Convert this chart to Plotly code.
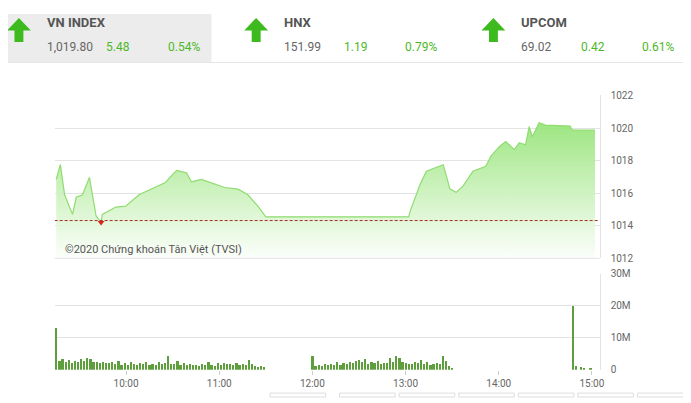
import plotly.graph_objects as go

OFF = 8  # page body margin
W, H = 691 - OFF, 403 - OFF

# intraday price (minutes after 9:00, index value)
price_min = [15, 17.7, 20.4, 25.5, 27.9, 31.9, 36.4, 40.7, 43.9, 44.7, 53.4, 59.8, 68.3, 79.0,
             85.3, 88.5, 92.6, 98.9, 102.1, 108.5, 117.3, 123.6, 132.1, 138.5, 144.9, 150.0,
             242.0, 243.0, 249.4, 253.4, 264.3, 268.6, 272.6, 277.1, 283.4, 291.7, 294.9,
             300.5, 304.5, 310.1, 313.2, 317.3, 319.6, 321.7, 326.0, 330.0, 346.0, 347.3, 362.0]
price_val = [1016.85, 1017.76, 1015.9, 1014.7, 1015.75, 1015.9, 1016.97, 1014.6, 1014.2, 1014.7,
             1015.15, 1015.2, 1015.9, 1016.35, 1016.65, 1017.0, 1017.4, 1017.25, 1016.7, 1016.85,
             1016.55, 1016.35, 1016.25, 1015.9, 1015.2, 1014.55,
             1014.55, 1014.9, 1016.55, 1017.35, 1017.75, 1016.25, 1016.05, 1016.45, 1017.35,
             1017.65, 1018.26, 1018.87, 1019.17, 1018.67, 1019.1, 1018.97, 1020.08, 1019.47,
             1020.33, 1020.18, 1020.12, 1019.88, 1019.88]
ref_price = 1014.32
low_point = (43.9, 1014.2)

# volume (millions), 2-minute bars
vol_am_start = 15
vol_am = [13.0, 2.8, 3.4, 2.6, 3.1, 2.2, 2.9, 2.5, 3.3, 2.8, 3.6, 3.4, 2.4, 2.6, 2.2, 2.5, 2.3, 2.1,
          2.6, 2.0, 2.8, 1.7, 2.2, 1.6, 2.6, 1.9, 1.5, 2.3, 1.8, 2.4, 1.6, 2.0, 1.7, 2.6, 1.8, 2.3,
          4.5, 2.0, 1.8, 2.9, 1.7, 2.2, 1.6, 1.9, 1.5, 1.6, 1.4, 1.8, 1.5, 2.4, 1.6, 1.2, 2.1, 1.5,
          2.3, 1.8, 2.0, 1.6, 2.2, 1.5, 2.0, 1.7, 3.0, 1.8, 1.2, 0.9, 1.1, 0.8]
vol_pm_start = 180
vol_pm = [4.4, 1.2, 1.6, 1.4, 1.8, 1.5, 2.0, 1.6, 2.6, 1.7, 2.2, 1.8, 2.5, 2.1, 2.7, 3.1, 2.4,
          3.4, 2.0, 2.6, 2.2, 2.8, 1.8, 2.3, 2.1, 3.8, 2.6, 4.5, 3.9, 2.4, 2.2, 2.0, 1.8, 2.6,
          2.2, 3.1, 1.9, 2.4, 1.7, 2.0, 2.3, 1.8, 4.4, 2.7, 1.2, 0.5]
vol_atc_min = [348.0, 349.5, 353.0, 355.0, 359.0]
vol_atc = [20.0, 1.2, 0.9, 0.6, 0.5]

tick_min = [60, 120, 180, 240, 300, 360]
tick_text = ["10:00", "11:00", "12:00", "13:00", "14:00", "15:00"]

indices = [
    ("VN INDEX", "1,019.80", "5.48", "0.54%"),
    ("HNX", "151.99", "1.19", "0.79%"),
    ("UPCOM", "69.02", "0.42", "0.61%"),
]


def px(x):
    return (x - OFF) / W


def py(y):
    return 1 - (y - OFF) / H


vol_x = [vol_am_start + 2 * i for i in range(len(vol_am))] + \
        [vol_pm_start + 2 * i for i in range(len(vol_pm))] + vol_atc_min
vol_y = vol_am + vol_pm + vol_atc

fig = go.Figure()
fig.add_trace(go.Scatter(
    x=price_min, y=price_val, mode="lines", line=dict(color="#8fdc6f", width=1.2),
    fill="tozeroy",
    fillgradient=dict(type="vertical", start=1012, stop=1020.5,
                      colorscale=[[0, "rgba(255,255,255,0.9)"], [1, "rgba(150,228,120,0.95)"]]),
    xaxis="x", yaxis="y", hoverinfo="skip"))
fig.add_trace(go.Scatter(
    x=[14, 365], y=[ref_price, ref_price], mode="lines",
    line=dict(color="#a52a2a", width=1, dash="3px,2px"), xaxis="x", yaxis="y"))
fig.add_trace(go.Scatter(
    x=[low_point[0]], y=[low_point[1]], mode="markers",
    marker=dict(symbol="triangle-down", size=6, color="#d9261c"), xaxis="x", yaxis="y"))
fig.add_trace(go.Bar(
    x=vol_x, y=vol_y, width=1.1, marker=dict(color="#5f9e3c", line=dict(width=0)),
    xaxis="x2", yaxis="y2"))

xdom = [px(55), px(604)]
grid = "#e3e3e3"
fig.update_layout(
    width=W, height=H, margin=dict(l=0, r=0, t=0, b=0),
    paper_bgcolor="white", plot_bgcolor="white", showlegend=False, bargap=0,
    font=dict(family="Roboto, sans-serif", color="#666"),
    xaxis=dict(domain=xdom, range=[14, 365], showticklabels=False, showgrid=False,
               zeroline=False, anchor="y"),
    yaxis=dict(domain=[py(260), py(92)], range=[1012, 1022], dtick=2, side="right",
               gridcolor=grid, zeroline=False, showline=True, linecolor=grid, mirror=False,
               tickfont=dict(size=10, color="#666"), ticklabelstandoff=8, anchor="x"),
    xaxis2=dict(domain=xdom, range=[14, 365], tickvals=tick_min, ticktext=tick_text,
                showgrid=False, zeroline=False, tickfont=dict(size=10, color="#666"),
                ticks="outside", ticklen=4, tickcolor="#ccc", anchor="y2"),
    yaxis2=dict(domain=[py(375), py(276)], range=[0, 30], tickvals=[0, 10, 20, 30],
                ticktext=["0", "10M", "20M", "30M"], side="right", gridcolor=grid,
                zeroline=False, showline=True, linecolor=grid,
                tickfont=dict(size=10, color="#666"), ticklabelstandoff=8, anchor="x2"),
)

shapes = [
    dict(type="rect", xref="paper", yref="paper", x0=0, x1=px(213), y0=py(58), y1=1,
         fillcolor="#ececec", line=dict(width=0), layer="below"),
    dict(type="line", xref="paper", yref="paper", x0=0, x1=1, y0=py(58), y1=py(58),
         line=dict(color="#e6e6e6", width=1)),
    dict(type="line", xref="paper", yref="paper", x0=px(55), x1=px(604), y0=py(260), y1=py(260),
         line=dict(color=grid, width=1)),
]
for bx in [270, 340, 400, 460, 520, 580, 640]:
    shapes.append(dict(type="rect", xref="paper", yref="paper", x0=px(bx + 2), x1=px(bx + 58),
                       y0=py(403), y1=py(399), line=dict(color="#dddddd", width=1)))

starts = [8, 247, 486]
for i, (name, val, chg, pct) in enumerate(indices):
    ax = starts[i]
    path = (f"M {px(ax + 11)},{py(12)} L {px(ax + 23)},{py(25)} L {px(ax + 15.5)},{py(25)} "
            f"L {px(ax + 15.5)},{py(37)} L {px(ax + 6.5)},{py(37)} L {px(ax + 6.5)},{py(25)} "
            f"L {px(ax - 1)},{py(25)} Z")
    shapes.append(dict(type="path", xref="paper", yref="paper", path=path,
                       fillcolor="#3dbb1e", line=dict(width=0)))
    tx = ax + 37
    fig.add_annotation(x=px(tx), y=py(17), xref="paper", yref="paper", text=f"<b>{name}</b>",
                       showarrow=False, xanchor="left", yanchor="middle",
                       font=dict(size=13, color="#555", family="Roboto, sans-serif"))
    fig.add_annotation(x=px(tx), y=py(42), xref="paper", yref="paper", text=val,
                       showarrow=False, xanchor="left", yanchor="middle",
                       font=dict(size=12, color="#666"))
    fig.add_annotation(x=px(tx + 60), y=py(42), xref="paper", yref="paper", text=chg,
                       showarrow=False, xanchor="left", yanchor="middle",
                       font=dict(size=12, color="#4cb827"))
    fig.add_annotation(x=px(tx + 158), y=py(42), xref="paper", yref="paper", text=pct,
                       showarrow=False, xanchor="right", yanchor="middle",
                       font=dict(size=12, color="#4cb827"))

fig.add_annotation(x=px(63), y=py(251), xref="paper", yref="paper",
                   text="©2020 Chứng khoán Tân Việt (TVSI)", showarrow=False,
                   xanchor="left", yanchor="middle", font=dict(size=11, color="#555"))
fig.update_layout(shapes=shapes)

fig.write_html("out.html")
